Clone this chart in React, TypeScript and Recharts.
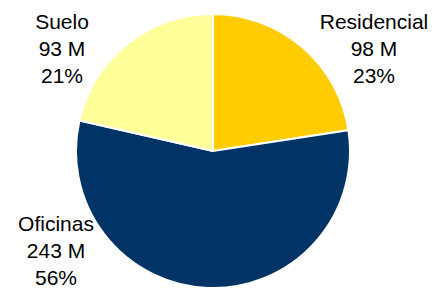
import React from "react";
import { PieChart, Pie, Cell } from "recharts";

const categories = ["Residencial", "Oficinas", "Suelo"];
const values = [98, 243, 93];
const valueLabels = ["98 M", "243 M", "93 M"];
const percentLabels = ["23%", "56%", "21%"];
const colors = ["#FFCC00", "#003366", "#FFFF99"];
// label block centre offsets from pie centre (layout only)
const labelOffsets = [
  [161, -103],
  [-157, 99],
  [-151, -103],
];

const data = categories.map((name, i) => ({ name, value: values[i] }));

const renderLabel = (props: any) => {
  const { cx, cy, index } = props;
  const [dx, dy] = labelOffsets[index];
  const x = cx + dx;
  const y = cy + dy;
  const lh = 27;
  const lines = [categories[index], valueLabels[index], percentLabels[index]];
  return (
    <g key={`lbl-${index}`}>
      {lines.map((t, k) => (
        <text
          key={k}
          x={x}
          y={y + (k - 1) * lh}
          textAnchor="middle"
          dominantBaseline="central"
          fontFamily="'Liberation Sans', Arial, sans-serif"
          fontSize={21}
          fill="#000"
        >
          {t}
        </text>
      ))}
    </g>
  );
};

export default function App() {
  return (
    <div style={{ position: "fixed", left: 0, top: 0, width: 445, height: 289, background: "#fff" }}>
      <PieChart width={445} height={289} margin={{ top: 0, right: 0, bottom: 0, left: 0 }}>
        <Pie
          data={data}
          dataKey="value"
          nameKey="name"
          cx={213}
          cy={151}
          outerRadius={137}
          startAngle={90}
          endAngle={-270}
          stroke="#FFFFFF"
          strokeWidth={2}
          label={renderLabel}
          labelLine={false}
          isAnimationActive={false}
        >
          {data.map((d, i) => (
            <Cell key={d.name} fill={colors[i]} />
          ))}
        </Pie>
      </PieChart>
    </div>
  );
}
